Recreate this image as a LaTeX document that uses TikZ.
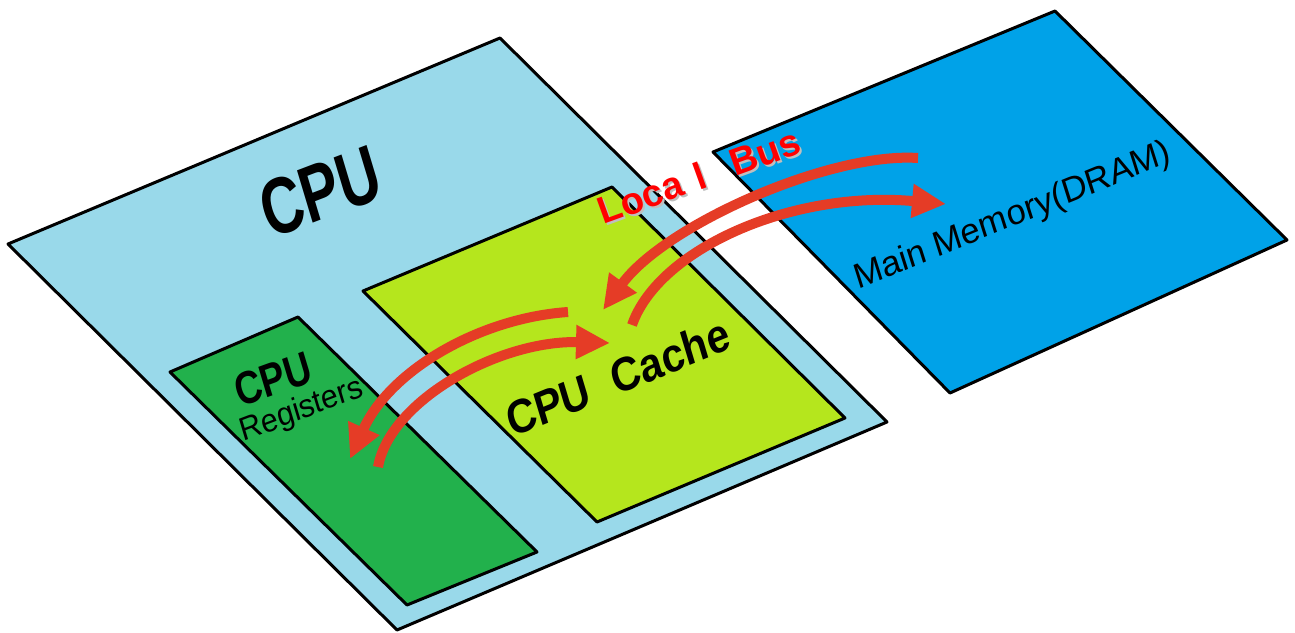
\documentclass[tikz,border=0pt]{standalone}
\usepackage{fontspec}
\setmainfont{Liberation Sans}
\usetikzlibrary{arrows.meta}

\definecolor{cpublue}{RGB}{153,217,234}
\definecolor{cachegreen}{RGB}{181,230,29}
\definecolor{reggreen}{RGB}{34,177,76}
\definecolor{memblue}{RGB}{0,162,232}
\definecolor{busred}{RGB}{229,60,38}

\begin{document}
\begin{tikzpicture}[x=1pt, y=-1pt,
    plate/.style={draw=black, line width=3pt, line join=round},
    bus/.style={draw=busred, line width=10pt, -{Triangle[length=34pt,width=32pt]}},
    lbl/.style={inner sep=0pt, anchor=base west, transform shape}]
  \useasboundingbox (0,0) rectangle (1295,632);

  % boards
  \draw[plate, fill=cpublue] (8,244) -- (500,38) -- (887,422) -- (397,630) -- cycle;
  \draw[plate, fill=cachegreen] (363,291) -- (612,187) -- (845,418) -- (597,522) -- cycle;
  \draw[plate, fill=reggreen] (170,372) -- (298,317) -- (537,552) -- (407,605) -- cycle;
  \draw[plate, fill=memblue] (713,152) -- (1055,11) -- (1287,240) -- (950,393) -- cycle;

  % arrow ends
  \coordinate (memtail) at (918,158);
  \coordinate (cachehead) at (603,310);
  \coordinate (cachetail) at (632,325);
  \coordinate (memhead) at (946,204);
  \coordinate (regtail) at (568,312);
  \coordinate (reghead) at (350,459);
  \coordinate (cachetail2) at (378,467);
  \coordinate (cachehead2) at (610,343);

  \draw[bus] (memtail) .. controls (830,152) and (665,225) .. (cachehead);
  \draw[bus] (cachetail) .. controls (658,250) and (790,190) .. (memhead);
  \draw[bus] (regtail) .. controls (480,318) and (390,370) .. (reghead);
  \draw[bus] (cachetail2) .. controls (390,400) and (500,340) .. (cachehead2);

  % labels
  \begin{scope}[shift={(270,240)}]
    \node[lbl, cm={0.72,0.274,-0.3,1,(0,0)}, font=\bfseries\fontsize{76}{76}\selectfont] (cpulbl) at (0,0) {CPU};
  \end{scope}
  \begin{scope}[shift={(512,438)}]
    \node[lbl, cm={0.86,0.35,-0.3,1,(0,0)}, font=\bfseries\fontsize{45}{45}\selectfont] (cachelbl) at (0,0) {CPU\hspace{14pt} Cache};
  \end{scope}
  \begin{scope}[shift={(240,408)}]
    \node[lbl, cm={0.8,0.29,-0.3,1,(0,0)}, font=\bfseries\fontsize{44}{44}\selectfont] (reglbl) at (0,0) {CPU};
  \end{scope}
  \begin{scope}[shift={(243,442)}]
    \node[lbl, cm={0.93,0.353,-0.3,1,(0,0)}, font=\fontsize{31}{31}\selectfont] (regtxt) at (0,0) {Registers};
  \end{scope}
  \begin{scope}[shift={(858,290)}]
    \node[lbl, cm={0.93,0.38,-0.3,0.95,(0,0)}, font=\fontsize{35}{35}\selectfont] (memlbl) at (0,0) {Main Memory(DRAM)};
  \end{scope}
  \begin{scope}[shift={(605,227)}]
    \node[lbl, cm={0.94,0.34,-0.34,0.94,(0,0)}, font=\bfseries\fontsize{38}{38}\selectfont, text=black!25] (busshadow) at (0,0) {Loca\hspace{14pt}l\hspace{28pt}Bus};
  \end{scope}
  \begin{scope}[shift={(603,225)}]
    \node[lbl, cm={0.94,0.34,-0.34,0.94,(0,0)}, font=\bfseries\fontsize{38}{38}\selectfont, text=red] (buslbl) at (0,0) {Loca\hspace{14pt}l\hspace{28pt}Bus};
  \end{scope}
\end{tikzpicture}
\end{document}
